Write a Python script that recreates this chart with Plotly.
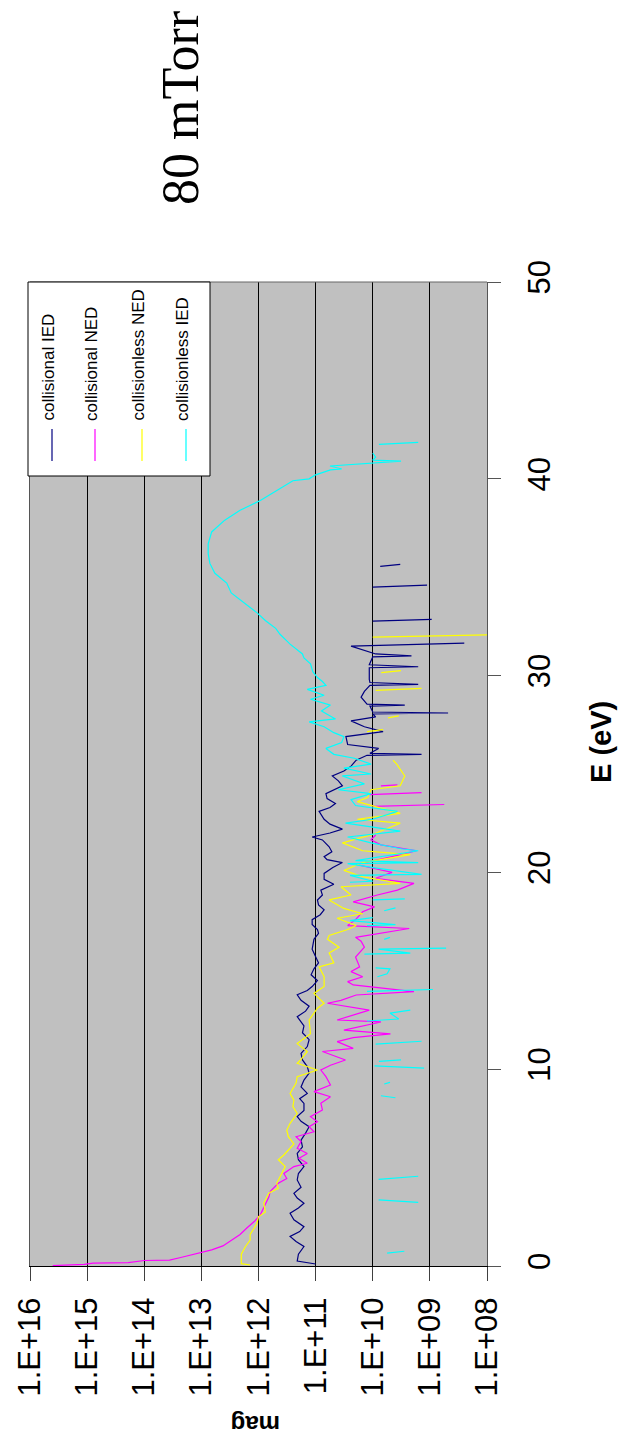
import plotly.graph_objects as go

# ---- data: energy (eV) and magnitude for each distribution ----
E_coll_IED = [0.10, 0.25, 0.60, 0.99, 1.25, 1.50, 1.75, 2.00, 2.35, 2.68, 2.95, 3.19, 3.45, 3.69,
              4.00, 4.37, 4.70, 5.05, 5.40, 5.72, 6.05, 6.40, 6.75, 7.08, 7.35, 7.59, 7.90, 8.26,
              8.50, 8.77, 9.10, 9.45, 9.80, 10.13, 10.47, 10.80, 11.15, 11.50, 11.85, 12.20, 12.67,
              12.95, 13.20, 13.50, 13.78, 14.00, 14.20, 14.50, 14.80, 15.10, 15.40, 15.70, 16.10,
              16.60, 16.90, 17.10, 17.35, 17.60, 17.85, 18.10, 18.35, 18.60, 18.85, 19.10, 19.40,
              19.65, 19.95, 20.25, 20.50, 20.65, 20.80, 21.05, 21.30, 21.65, 21.80, 22.00, 22.20,
              22.45, 22.70, 23.10, 23.30, 23.50, 23.75, 24.00, 24.40, 24.65, 24.90, 25.15, 25.40,
              25.70, 25.95, 26.00, 26.05, 26.30, 26.50, 26.90, 27.15, 27.40, 27.70, 27.90, 28.05,
              28.10, 28.15, 28.45, 28.50, 28.55, 28.90, 29.20, 29.50, 29.55, 29.65, 29.80, 30.40,
              30.45, 30.55, 30.95, 31.00, 31.10, 31.50, 31.65, None, 32.77, 32.86, None,
              34.50, 34.60, None, 35.55, 35.65]
M_coll_IED = [1.0e11, 2.1e11, 2.0e11, 1.6e11, 2.2e11, 2.8e11, 1.9e11, 1.6e11, 2.4e11, 2.8e11, 2.0e11,
              1.6e11, 2.1e11, 2.4e11, 1.8e11, 2.1e11, 2.0e11, 1.6e11, 2.0e11, 2.1e11, 1.7e11, 1.8e11,
              1.5e11, 1.3e11, 1.8e11, 2.1e11, 1.6e11, 1.6e11, 1.9e11, 1.4e11, 1.8e11, 1.6e11, 1.3e11,
              1.4e11, 1.7e11, 1.8e11, 1.4e11, 1.3e11, 1.7e11, 1.6e11, 2.1e11, 1.5e11, 1.3e11, 1.8e11,
              2.1e11, 1.4e11, 1.15e11, 9.3e10, 1.2e11, 1.07e11, 8.9e10, 1.0e11, 1.15e11, 1.07e11,
              8.9e10, 9.3e10, 1.15e11, 1.15e11, 8.3e10, 7.1e10, 8.9e10, 9.3e10, 7.6e10, 8.1e10,
              4.8e10, 7.1e10, 7.1e10, 5.0e10, 3.4e10, 6.3e10, 7.1e10, 5.2e10, 5.8e10, 7.6e10,
              1.15e11, 5.6e10, 3.4e10, 5.6e10, 7.1e10, 8.7e10, 5.6e10, 4.5e10, 6.3e10, 6.6e10,
              3.4e10, 4.0e10, 5.1e10, 3.2e10, 2.4e10, 1.95e10, 1.26e10, 1.4e9, 1.12e10, 7.9e9,
              2.75e10, 2.95e10, 6.6e9, 1.4e10, 2.4e10, 8.9e9, 1.0e10, 4.8e8, 1.0e10, 1.12e10,
              2.75e9, 1.26e10, 1.6e10, 1.4e10, 1.12e10, 1.6e9, 1.12e10, 1.15e10, 1.15e10, 1.6e9,
              1.15e10, 1.0e10, 2.1e9, 8.9e9, 2.4e10, 2.5e8, None, 1.0e10, 9.3e8, None,
              1.0e10, 1.12e9, None, 7.4e9, 3.3e9]

E_coll_NED = [0.02, 0.08, 0.15, 0.17, 0.28, 0.30, 0.43, 0.68, 0.82, 1.02, 1.28, 1.60, 1.93, 2.30,
              2.60, 3.00, 3.50, 3.80, 4.20, 4.45, 4.70, 5.05, 5.22, 5.47, 5.72, 5.98, 6.32, 6.57,
              6.82, 7.08, 7.33, 7.59, 7.93, 8.27, 8.60, 8.86, 9.20, 9.62, 9.96, 10.20, 10.47,
              10.90, 11.06, 11.40, 11.60, 11.80, 11.99, 12.40, 12.50, 13.00, 13.35, 13.50, 13.77,
              13.94, 14.28, 14.45, 14.70, 14.96, 15.20, 15.70, 16.20, 16.50, 16.70, 17.15, 17.30,
              17.60, 18.00, 18.25, 18.50, 18.85, 19.10, 19.44, 19.70, 20.00, 20.40, 20.80, 21.10,
              21.40, 21.65, 21.90, None, 23.35, 23.45, None, 23.95, 24.05, None, 24.40, 24.45]
M_coll_NED = [4.0e15, 1.12e15, 7.9e14, 1.9e14, 1.0e14, 3.6e13, 2.3e13, 1.0e13, 6.6e12, 4.2e12,
              3.0e12, 2.1e12, 1.6e12, 1.15e12, 9.3e11, 8.1e11, 6.6e11, 6.2e11, 4.5e11, 3.2e11,
              3.6e11, 2.4e11, 1.4e11, 1.95e11, 1.4e11, 2.1e11, 1.8e11, 2.2e11, 1.07e11, 1.3e11,
              9.3e10, 1.23e11, 7.6e10, 8.1e10, 5.5e10, 1.07e11, 5.5e10, 6.6e10, 8.1e10, 5.5e10,
              3.0e10, 7.6e10, 2.2e10, 4.2e10, 2.2e10, 4.9e9, 3.2e10, 7.2e9, 4.2e10, 1.15e10,
              6.2e10, 3.6e10, 1.95e10, 1.9e9, 2.2e10, 2.75e10, 1.5e10, 2.4e10, 1.7e10, 2.0e10,
              1.4e10, 1.6e10, 2.0e10, 2.3e9, 2.75e10, 2.0e10, 1.5e10, 9.3e9, 2.2e10, 8.3e9,
              3.7e9, 1.9e9, 8.9e9, 4.6e9, 1.95e10, 4.6e9, 1.7e9, 7.2e9, 1.07e10, 8.9e9, None,
              1.0e10, 5.6e8, None, 1.15e10, 1.4e9, None, 7.2e9, 3.7e9]

E_less_NED = [0.05, 0.12, 0.60, 0.98, 1.32, 1.60, 2.15, 2.50, 2.75, 3.20, 3.70, 3.95, 4.20, 4.70,
              5.05, 5.40, 5.64, 6.20, 6.57, 6.90, 7.25, 7.75, 8.10, 8.43, 8.77, 9.30, 9.62, 9.96,
              10.30, 10.50, 10.90, 11.30, 11.80, 12.50, 13.10, 13.35, 13.85, 14.20, 14.70, 15.20,
              15.40, 15.90, 16.20, 16.60, 16.80, 17.10, 17.30, 17.67, 17.90, 18.17, 18.60, 18.85,
              19.27, 19.44, 19.78, 20.10, 20.50, 20.90, 21.10, 21.50, 21.90, 22.50, 22.70, 23.00,
              23.60, 23.80, 24.20, 24.40, 24.90, 25.50, 25.70, None, 27.15, 27.25, None,
              27.85, 27.95, None, 29.25, 29.35, None, 30.15, 30.25, None, 31.95, 32.10]
M_less_NED = [1.4e12, 2.0e12, 2.0e12, 1.7e12, 1.4e12, 1.4e12, 1.07e12, 1.0e12, 7.6e11, 8.1e11,
              6.6e11, 4.5e11, 4.8e11, 3.9e11, 3.4e11, 4.5e11, 3.6e11, 2.4e11, 3.0e11, 3.2e11,
              2.8e11, 2.1e11, 2.5e11, 2.4e11, 2.8e11, 2.2e11, 2.1e11, 9.3e10, 2.1e11, 1.8e11,
              1.4e11, 2.1e11, 1.23e11, 1.3e11, 9.3e10, 7.1e10, 1.07e11, 7.1e10, 7.1e10, 8.7e10,
              4.8e10, 5.8e10, 3.9e10, 6.2e10, 5.8e10, 2.75e10, 1.95e10, 4.2e10, 1.5e10, 3.2e10,
              5.8e10, 2.4e10, 3.6e10, 3.3e9, 1.5e10, 3.2e10, 1.5e10, 2.2e9, 1.5e10, 3.4e10,
              1.07e10, 3.3e9, 1.86e10, 3.3e9, 1.86e10, 1.23e10, 1.07e10, 3.3e9, 2.75e9, 3.8e9,
              4.4e9, None, 1.26e10, 6.6e9, None, 5.4e9, 3.5e9, None, 8.9e9, 1.4e9, None,
              7.1e9, 3.2e9, None, 1.0e10, 3.2e7]

E_less_IED = [0.65, 0.75, None, 3.23, 3.36, None, 4.40, 4.56, None, 8.55, 8.65, None, 9.25, 9.33,
              None, 10.05, 10.17, None, 10.40, 10.47, None, 11.27, 11.42, None, 12.45, 12.55,
              12.85, 13.00, None, 13.95, 14.05, None, 14.70, 14.85, 15.10, 15.15, None, 15.85,
              15.90, 16.10, 16.15, None, 16.60, 16.70, None, 17.30, 17.35, 17.55, 17.70, None,
              18.05, 18.20, None, 18.60, 18.65, None, 19.50, 19.55, 19.85, 19.90, 20.20, 20.45,
              20.50, 20.60, 21.10, 21.20, 21.50, 21.80, 22.10, 22.50, 22.70, 23.10, 23.40, 23.70,
              24.00, 24.20, 24.50, 24.90, 25.00, 25.30, 25.50, 25.80, 26.00, 26.30, 26.60, 26.90,
              27.10, 27.40, 27.65, 27.80, 28.20, 28.50, 28.80, 29.00, 29.30, 29.50, 29.70, 29.90,
              30.20, 30.60, 30.90, 31.10, 31.60, 31.90, 32.10, 32.40, 32.80, 33.20, 33.80, 34.20,
              34.70, 35.20, 35.70, 36.20, 36.70, 37.30, 37.90, 38.40, 38.90, 39.40, 39.90, 40.00,
              40.20, 40.45, 40.50, 40.65, 40.75, 40.80, 40.90, 40.95, 41.10, 41.30, None,
              41.75, 41.85]
M_less_IED = [5.6e9, 2.8e9, None, 1.6e9, 7.9e9, None, 7.9e9, 1.6e9, None, 4.0e9, 7.2e9, None,
              6.3e9, 5.0e9, None, 1.26e9, 9.3e9, None, 7.8e9, 3.2e9, None, 8.9e9, 1.4e9, None,
              1.26e10, 3.5e9, 5.0e9, 2.2e9, None, 1.26e10, 8.9e8, None, 8.3e9, 5.6e9, 5.0e9,
              8.9e9, None, 1.4e10, 2.2e9, 7.9e9, 5.2e8, None, 6.3e9, 5.0e9, None, 1.26e10,
              4.0e9, 2.5e10, 1.0e10, None, 6.3e9, 4.0e9, None, 1.0e10, 2.75e9, None, 2.5e10,
              1.0e10, 2.5e10, 1.4e9, 7.9e9, 2.75e10, 1.6e9, 2.0e10, 1.6e9, 3.2e9, 1.07e10,
              2.75e10, 3.3e9, 3.0e10, 1.0e10, 3.7e9, 2.0e10, 2.4e10, 1.07e10, 4.0e10, 1.4e10,
              3.4e10, 1.07e10, 3.2e10, 1.07e10, 2.1e10, 4.8e10, 6.6e10, 3.5e10, 3.2e10, 4.8e10,
              7.1e10, 1.3e11, 4.5e10, 7.9e10, 5.5e10, 1.23e11, 7.1e10, 1.4e11, 6.6e10, 7.6e10,
              9.3e10, 1.12e11, 1.23e11, 1.6e11, 1.7e11, 2.8e11, 3.5e11, 4.2e11, 5.0e11, 7.6e11,
              1.07e12, 1.95e12, 3.0e12, 3.6e12, 5.8e12, 7.1e12, 7.6e12, 7.6e12, 6.6e12, 3.9e12,
              2.1e12, 9.3e11, 4.8e11, 2.5e11, 1.3e11, 1.0e11, 5.5e10, 3.5e10, 5.6e10, 2.0e10,
              1.0e10, 3.2e9, 1.0e10, 8.9e9, 1.0e10, None, 7.8e9, 1.6e9]

SERIES_NAMES = ["collisional IED", "collisional NED", "collisionless NED", "collisionless IED"]
SERIES_COLORS = ["#000080", "#FF00FF", "#FFFF00", "#00FFFF"]

MAG_TICKS = [1e16, 1e15, 1e14, 1e13, 1e12, 1e11, 1e10, 1e9, 1e8]
MAG_TICK_TEXT = ["1.E+16", "1.E+15", "1.E+14", "1.E+13", "1.E+12", "1.E+11", "1.E+10", "1.E+09", "1.E+08"]
E_TICKS = [0, 10, 20, 30, 40, 50]

TITLE = "80 mTorr"
MAG_LABEL = "mag"
E_LABEL = "E (eV)"

# ---- page geometry (pixels) ----
W, H = 621, 1453
PL, PR, PT, PB = 30, 487, 282, 1266   # plot area edges


def px(x):
    return (x - PL) / (PR - PL)


def py(y):
    return (PB - y) / (PB - PT)


SANS = "Liberation Sans, Arial, sans-serif"

fig = go.Figure()
series = [(E_coll_IED, M_coll_IED), (E_coll_NED, M_coll_NED),
          (E_less_NED, M_less_NED), (E_less_IED, M_less_IED)]
for (e, m), name, color in zip(series, SERIES_NAMES, SERIES_COLORS):
    fig.add_trace(go.Scatter(x=m, y=e, mode="lines", name=name,
                             line=dict(color=color, width=1.2),
                             connectgaps=False, showlegend=False))

fig.update_layout(
    width=W, height=H,
    margin=dict(l=PL, r=W - PR, t=PT, b=H - PB, pad=0),
    paper_bgcolor="white",
    plot_bgcolor="#C0C0C0",
    font=dict(family=SANS, color="black"),
    showlegend=False,
)

fig.update_xaxes(
    type="log", range=[16, 8], autorange=False,
    tickmode="array", tickvals=MAG_TICKS, ticktext=MAG_TICK_TEXT,
    tickangle=-90, tickfont=dict(size=31, family=SANS, color="black"),
    ticks="outside", ticklen=14, tickcolor="#404040", tickwidth=1,
    ticklabelstandoff=4,
    showgrid=True, gridcolor="black", gridwidth=1,
    showline=True, linecolor="black", linewidth=1, mirror=False,
    zeroline=False,
)
fig.update_yaxes(
    range=[0, 50], autorange=False, side="right",
    tickmode="array", tickvals=E_TICKS, ticktext=[str(v) for v in E_TICKS],
    tickangle=-90, tickfont=dict(size=31, family=SANS, color="black"),
    ticks="outside", ticklen=13, tickcolor="#555555", tickwidth=1,
    ticklabelstandoff=12,
    showgrid=False, zeroline=False,
    showline=True, linecolor="#555555", linewidth=1, mirror=True,
)

shapes = [
    # top edge of the plot frame
    dict(type="line", xref="paper", yref="paper", x0=0, x1=1, y0=1, y1=1,
         line=dict(color="#666666", width=1), layer="above"),
    # legend frame
    dict(type="rect", xref="paper", yref="paper", x0=px(28), x1=px(210), y0=py(476), y1=py(282),
         fillcolor="white", line=dict(color="black", width=1), layer="above"),
]
legend_x = [52, 95, 142, 186]
annotations = []
for lx, name, color in zip(legend_x, SERIES_NAMES, SERIES_COLORS):
    shapes.append(dict(type="line", xref="paper", yref="paper", x0=px(lx), x1=px(lx),
                       y0=py(461), y1=py(429), line=dict(color=color, width=1.2), layer="above"))
    annotations.append(dict(text=name, xref="paper", yref="paper", x=px(lx - 4), y=py(423),
                            xanchor="center", yanchor="bottom", textangle=-90, showarrow=False,
                            font=dict(family=SANS, size=17, color="black")))

annotations += [
    dict(text=TITLE, xref="paper", yref="paper", x=px(180), y=py(108), xanchor="center",
         yanchor="middle", textangle=-90, showarrow=False,
         font=dict(family="Liberation Serif, DejaVu Serif, serif", size=52, color="black")),
    dict(text="<b>" + MAG_LABEL + "</b>", xref="paper", yref="paper", x=px(256), y=py(1425),
         xanchor="center", yanchor="middle", textangle=180, showarrow=False,
         font=dict(family=SANS, size=24, color="black")),
    dict(text="<b>" + E_LABEL + "</b>", xref="paper", yref="paper", x=px(601), y=py(742),
         xanchor="center", yanchor="middle", textangle=-90, showarrow=False,
         font=dict(family=SANS, size=29, color="black")),
]
fig.update_layout(shapes=shapes, annotations=annotations)

fig.write_html("out.html")
